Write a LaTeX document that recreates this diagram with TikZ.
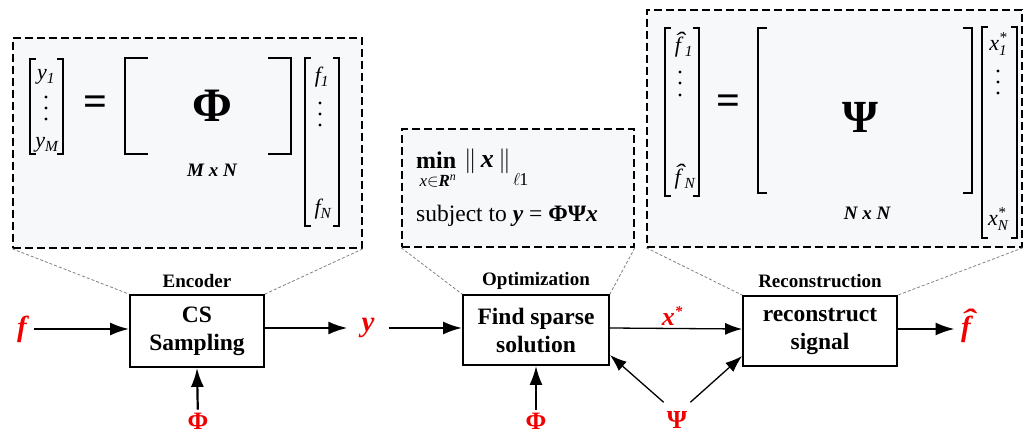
\documentclass[tikz,border=0pt]{standalone}
\usepackage{fontspec}
\usepackage{graphicx}
\setmainfont{Liberation Serif}
\usetikzlibrary{arrows.meta,calc}
\definecolor{panel}{RGB}{247,248,250}
\definecolor{sigred}{RGB}{240,0,0}
\newcommand\fs[1]{\fontsize{#1}{#1}\selectfont}
% column-vector / matrix brackets: left x, right x, top y, bottom y, tick length
\newcommand\vecbrk[5]{%
  \draw[brk] (#1+#5,#3) -- (#1,#3) -- (#1,#4) -- (#1+#5,#4);
  \draw[brk] (#2-#5,#3) -- (#2,#3) -- (#2,#4) -- (#2-#5,#4);}
% vertical ellipsis as three dots
\newcommand\vdotsat[4]{\fill (#1,#2) circle (1.6) (#1,#3) circle (1.6) (#1,#4) circle (1.6);}
% a circumflex stacked over a letter: #1 hat shift, #2 gap, #3 letter
\newcommand\hatover[3]{\leavevmode\vbox{\offinterlineskip
  \halign{\hfil##\hfil\cr\kern#1\scalebox{1.5}[1]{ˆ}\cr\noalign{\kern#2}#3\cr}}}
% starred component with index, e.g. x*_1
\newcommand\starred[3]{\textit{#1}\rlap{\raisebox{0.4em}{\fs{#3}*}}\raisebox{-0.22em}{\fs{#3}\textit{#2}}}
\begin{document}
\begin{tikzpicture}[x=1pt,y=-1pt,
  panelbox/.style={draw, fill=panel, line width=1.6pt, dash pattern=on 8pt off 4pt, inner sep=0pt},
  block/.style={draw, line width=1.8pt, align=center, inner sep=0pt,
    font=\fontsize{23.5}{28}\selectfont\bfseries},
  stage/.style={font=\fs{19}\bfseries, inner sep=1pt},
  guide/.style={gray, line width=0.8pt, dash pattern=on 3pt off 2pt},
  flow/.style={line width=2.2pt, -{Latex[length=19pt,width=13pt]}},
  thinflow/.style={line width=1.3pt, -{Latex[length=17pt,width=12pt]}},
  sig/.style={text=sigred, font=\fs{29}\bfseries\itshape, inner sep=2pt},
  greek/.style={text=sigred, font=\fs{25}\bfseries, inner sep=3pt},
  brk/.style={line width=1.2pt},
  ent/.style={font=\fs{22}\itshape, inner sep=0pt, anchor=base},
  eqsign/.style={font=\fs{42}\bfseries, inner sep=0pt},
  dims/.style={font=\fs{19}\bfseries\itshape, inner sep=0pt}]
\useasboundingbox (0,0) rectangle (1026,435);

% zoom-in panels
\node[panelbox, minimum width=349pt, minimum height=210pt] (pEnc) at (187.5,143) {};
\node[panelbox, minimum width=232pt, minimum height=118pt] (pOpt) at (518,188) {};
\node[panelbox, minimum width=375pt, minimum height=237pt] (pRec) at (834.5,128.5) {};

% processing blocks
\node[block, minimum width=134pt, minimum height=72pt] (enc) at (197,331) {CS\\Sampling};
\node[block, minimum width=146pt, minimum height=70pt] (opt) at (536,330) {Find sparse\\solution};
\node[block, minimum width=154pt, minimum height=70pt] (rec) at (820,331) {reconstruct\\signal};

\node[stage] (lEnc) at (197,281) {Encoder};
\node[stage] (lOpt) at (536,281) {Optimization};
\node[stage] (lRec) at (820,281) {Reconstruction};

% guide lines from panels to blocks
\draw[guide] (pEnc.south west) -- (enc.north west);
\draw[guide] (pEnc.south east) -- (enc.north east);
\draw[guide] (pOpt.south west) -- (opt.north west);
\draw[guide] (pOpt.south east) -- (opt.north east);
\draw[guide] (pRec.south west) -- (rec.north west);
\draw[guide] (pRec.south east) -- (rec.north east);

% encoder panel: y = Phi f
\vecbrk{30}{63}{59}{154}{6}
\node[ent] (y1) at (46,80) {y\textsubscript{1}};
\vdotsat{46}{97}{108}{119}
\node[ent] (yM) at (47,148) {y\textsubscript{M}};
\node[eqsign] (eqA) at (95,106) {=};
\vecbrk{125}{291}{58}{154}{23}
\node[font=\fs{48}\bfseries, inner sep=0pt] (Phi) at (212,106) {Φ};
\node[dims] (dimA) at (212,170) {M x N};
\vecbrk{305}{339}{58}{226}{6}
\node[ent] (f1) at (322,83) {f\textsubscript{1}};
\vdotsat{320}{103}{114}{125}
\node[ent] (fN) at (323,215) {f\textsubscript{N}};

% optimization panel
\node[anchor=base west, font=\fs{24}\bfseries, inner sep=0pt] (minop) at (416,169) {min};
\node[anchor=base, font=\fs{17}, inner sep=0pt] (minset) at (438,187)
  {\textit{x}$\in$\textbf{\textit{R}}\textsuperscript{\textit{n}}};
\node[anchor=base west, font=\fs{26}, inner sep=0pt] (norm) at (464,168)
  {$\|$\,\textbf{\textit{x}}\,$\|$};
\node[anchor=base west, font=\fs{18}, inner sep=0pt] (lone) at (513,186) {$\ell$\kern-1pt1};
\node[anchor=base west, font=\fs{23.5}, inner sep=0pt] (cons) at (416,222)
  {subject to \textbf{\textit{y}} = \textbf{ΦΨ\textit{x}}};

% reconstruction panel: f^ = Psi x*
\vecbrk{665}{699}{28}{196}{6}
\node[ent] (fh1) at (682,53) {\hatover{3pt}{-10pt}{f}\textsubscript{1}};
\vdotsat{680}{72}{83}{95}
\node[ent] (fhN) at (683,185) {\hatover{3pt}{-10pt}{f}\textsubscript{N}};
\node[eqsign] (eqB) at (728,105) {=};
\vecbrk{758}{972}{28}{193}{9}
\node[font=\fs{46}\bfseries, inner sep=0pt] (Psi) at (860,117) {Ψ};
\node[dims] (dimB) at (867,213) {N x N};
\vecbrk{982}{1017}{27}{238}{6}
\node[ent] (xs1) at (998,51) {\starred{x}{1}{15}};
\vdotsat{998}{71}{82}{93}
\node[ent] (xsN) at (998,226) {\starred{x}{N}{15}};

% signals
\node[sig] (f) at (22,329) {f};
\node[sig] (y) at (368,328) {y};
\node[greek] (phiA) at (198,421) {Φ};
\node[greek] (phiB) at (536,421) {Φ};
\node[greek, font=\fs{26}\bfseries] (psi) at (677,420) {Ψ};
\node[sig, font=\fs{26}\bfseries\itshape] (xstar) at (672,316) {x\raisebox{0.35em}{\fs{15}*}};
\node[sig, anchor=base] (fhat) at (966,337) {\hatover{4pt}{-13pt}{f}};

% flow arrows
\draw[flow, shorten <=5pt] (f) -- (f -| enc.west);
\draw[flow, shorten >=12pt] (enc.east |- y) -- (y);
\draw[flow, shorten <=12pt] (y) -- (y -| opt.west);
\draw[flow] (phiA) -- (enc.south);
\draw[flow] (phiB) -- (opt.south);
\draw[thinflow] ([yshift=2pt]opt.east) -- ([yshift=2pt]rec.west);
\draw[thinflow] ([yshift=6pt]psi.north west) -- ([yshift=-25pt]opt.east);
\draw[thinflow] ([yshift=6pt]psi.north east) -- ([yshift=-25pt]rec.west);
\draw[flow] ([yshift=2pt]rec.east) -- ([yshift=2pt]rec.east -| fhat.west);
\end{tikzpicture}
\end{document}
